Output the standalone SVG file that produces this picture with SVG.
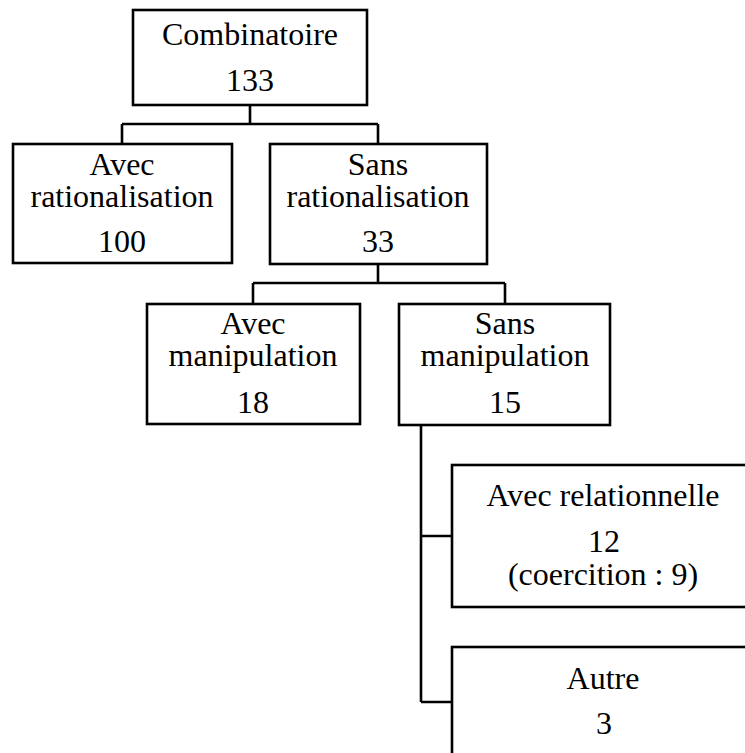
<svg xmlns="http://www.w3.org/2000/svg" width="745" height="753" viewBox="0 0 745 753">
<style>
  .box { fill: #ffffff; stroke: #000000; stroke-width: 2.6; }
  .lbl { font-family: "Liberation Serif", "Times New Roman", serif; font-size: 32px; fill: #000000; text-anchor: middle; }
  .conn { fill: none; stroke: #000000; stroke-width: 2.6; }
</style>
<rect x="0" y="0" width="745" height="753" fill="#ffffff"/>
<g id="connectors">
  <path class="conn" d="M250 105 V124 M122 124 H378 M122 124 V144 M378 124 V144"/>
  <path class="conn" d="M378 264 V283 M253 283 H505 M253 283 V304 M505 283 V304"/>
  <path class="conn" d="M421 425 V702 M421 536 H452 M421 702 H452"/>
</g>
<g id="combinatoire">
  <rect class="box" x="133" y="10" width="234" height="95"/>
  <text class="lbl" x="250" y="45">Combinatoire</text>
  <text class="lbl" x="250" y="91">133</text>
</g>
<g id="avec-rationalisation">
  <rect class="box" x="13" y="144" width="219" height="119"/>
  <text class="lbl" x="122" y="175">Avec</text>
  <text class="lbl" x="122" y="207">rationalisation</text>
  <text class="lbl" x="122" y="252">100</text>
</g>
<g id="sans-rationalisation">
  <rect class="box" x="270" y="144" width="217" height="120"/>
  <text class="lbl" x="378" y="175">Sans</text>
  <text class="lbl" x="378" y="207">rationalisation</text>
  <text class="lbl" x="378" y="252">33</text>
</g>
<g id="avec-manipulation">
  <rect class="box" x="147" y="304" width="213" height="120"/>
  <text class="lbl" x="253" y="334">Avec</text>
  <text class="lbl" x="253" y="366">manipulation</text>
  <text class="lbl" x="253" y="413">18</text>
</g>
<g id="sans-manipulation">
  <rect class="box" x="399" y="304" width="211" height="121"/>
  <text class="lbl" x="505" y="334">Sans</text>
  <text class="lbl" x="505" y="366">manipulation</text>
  <text class="lbl" x="505" y="413">15</text>
</g>
<g id="avec-relationnelle">
  <rect class="box" x="452" y="465" width="310" height="142"/>
  <text class="lbl" x="603" y="506">Avec relationnelle</text>
  <text class="lbl" x="604" y="552">12</text>
  <text class="lbl" x="603" y="585">(coercition : 9)</text>
</g>
<g id="autre">
  <rect class="box" x="452" y="647" width="310" height="130"/>
  <text class="lbl" x="603" y="689">Autre</text>
  <text class="lbl" x="604" y="734">3</text>
</g>
</svg>
